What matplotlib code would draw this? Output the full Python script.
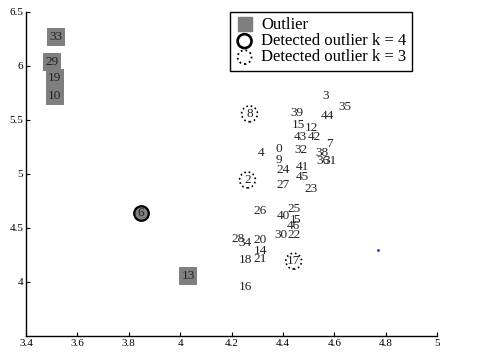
import matplotlib
matplotlib.use("Agg")
import matplotlib.pyplot as plt
from matplotlib.lines import Line2D

# ---- data ----
labels = ["33", "29", "19", "10", "13", "6",
          "3", "35", "8", "39", "44", "15", "12", "43", "42", "7",
          "0", "32", "4", "38", "36", "31", "9", "24", "41", "45",
          "2", "27", "23", "26", "25", "40", "1", "5", "46", "30",
          "22", "28", "34", "20", "14", "21", "18", "17", "16"]
xs = [3.515, 3.503, 3.512, 3.512, 4.031, 3.848,
      4.565, 4.640, 4.270, 4.455, 4.572, 4.461, 4.513, 4.468, 4.522, 4.582,
      4.383, 4.472, 4.315, 4.552, 4.556, 4.583, 4.383, 4.400, 4.474, 4.474,
      4.262, 4.400, 4.510, 4.312, 4.442, 4.400, 4.438, 4.452, 4.442, 4.391,
      4.442, 4.227, 4.253, 4.312, 4.312, 4.312, 4.256, 4.442, 4.253]
ys = [6.265, 6.040, 5.885, 5.720, 4.055, 4.642,
      5.725, 5.617, 5.557, 5.562, 5.538, 5.456, 5.428, 5.339, 5.339, 5.282,
      5.232, 5.220, 5.196, 5.196, 5.119, 5.119, 5.128, 5.034, 5.067, 4.975,
      4.945, 4.899, 4.860, 4.654, 4.676, 4.615, 4.575, 4.575, 4.515, 4.431,
      4.431, 4.400, 4.364, 4.385, 4.284, 4.217, 4.202, 4.193, 3.957]

outliers = ["33", "29", "19", "10", "13", "6"]
detected_k4 = ["6"]
detected_k3 = ["8", "2", "17"]

extra_x = [4.770]
extra_y = [4.294]

xticks = [3.4, 3.6, 3.8, 4.0, 4.2, 4.4, 4.6, 4.8, 5.0]
xticklabels = ["3.4", "3.6", "3.8", "4", "4.2", "4.4", "4.6", "4.8", "5"]
yticks = [4.0, 4.5, 5.0, 5.5, 6.0, 6.5]
yticklabels = ["4", "4.5", "5", "5.5", "6", "6.5"]

legend_labels = ["Outlier", "Detected outlier k = 4", "Detected outlier k = 3"]

# ---- figure ----
serif = "Liberation Serif"
grey = "#7f7f7f"

fig = plt.figure(figsize=(4.78, 3.58), dpi=100)
ax = fig.add_axes([0.0544, 0.0615, 0.86, 0.905])

pos = {l: (x, y) for l, x, y in zip(labels, xs, ys)}

sq = [l for l in outliers if l not in detected_k4]
ax.scatter([pos[l][0] for l in sq], [pos[l][1] for l in sq],
           marker="s", s=175, c=grey, linewidths=0, zorder=2)

ax.scatter([pos[l][0] for l in detected_k4], [pos[l][1] for l in detected_k4],
           marker="o", s=110, facecolors=[grey if l in outliers else "none" for l in detected_k4],
           edgecolors="black", linewidths=1.6, zorder=3)

ax.scatter([pos[l][0] for l in detected_k3], [pos[l][1] for l in detected_k3],
           marker="o", s=130, facecolors="none", edgecolors="black",
           linewidths=1.2, linestyle=":", zorder=3)

ax.plot(extra_x, extra_y, ".", color="#2b2bd0", markersize=2, zorder=2)

for l, x, y in zip(labels, xs, ys):
    ax.text(x, y, l, ha="center", va="center", fontsize=9.5,
            family=serif, color="#222222", zorder=4)

ax.set_xlim(3.4, 5.0)
ax.set_ylim(3.5, 6.5)
ax.set_xticks(xticks)
ax.set_xticklabels(xticklabels, family=serif, fontsize=8)
ax.set_yticks(yticks)
ax.set_yticklabels(yticklabels, family=serif, fontsize=8)
ax.tick_params(direction="in", length=3, width=0.8, pad=2)
for s in ["top", "right"]:
    ax.spines[s].set_visible(False)
for s in ["left", "bottom"]:
    ax.spines[s].set_linewidth(1.0)

h1 = Line2D([], [], marker="s", markersize=9.5, color=grey, linestyle="none")
h2 = ax.scatter([], [], marker="o", s=100, facecolors="none", edgecolors="black", linewidths=1.9)
h3 = ax.scatter([], [], marker="o", s=100, facecolors="none", edgecolors="black",
                linewidths=1.3, linestyle=":")
leg = ax.legend([h1, h2, h3], legend_labels, loc="upper left",
                bbox_to_anchor=(0.496, 1.0), borderaxespad=0, fancybox=False,
                edgecolor="black", framealpha=1, prop={"family": serif, "size": 12},
                labelspacing=0.0, handlelength=1.1, handletextpad=0.46,
                borderpad=0.33, scatterpoints=1)
leg.get_frame().set_linewidth(1.0)

fig.savefig("out.png", dpi=100)
